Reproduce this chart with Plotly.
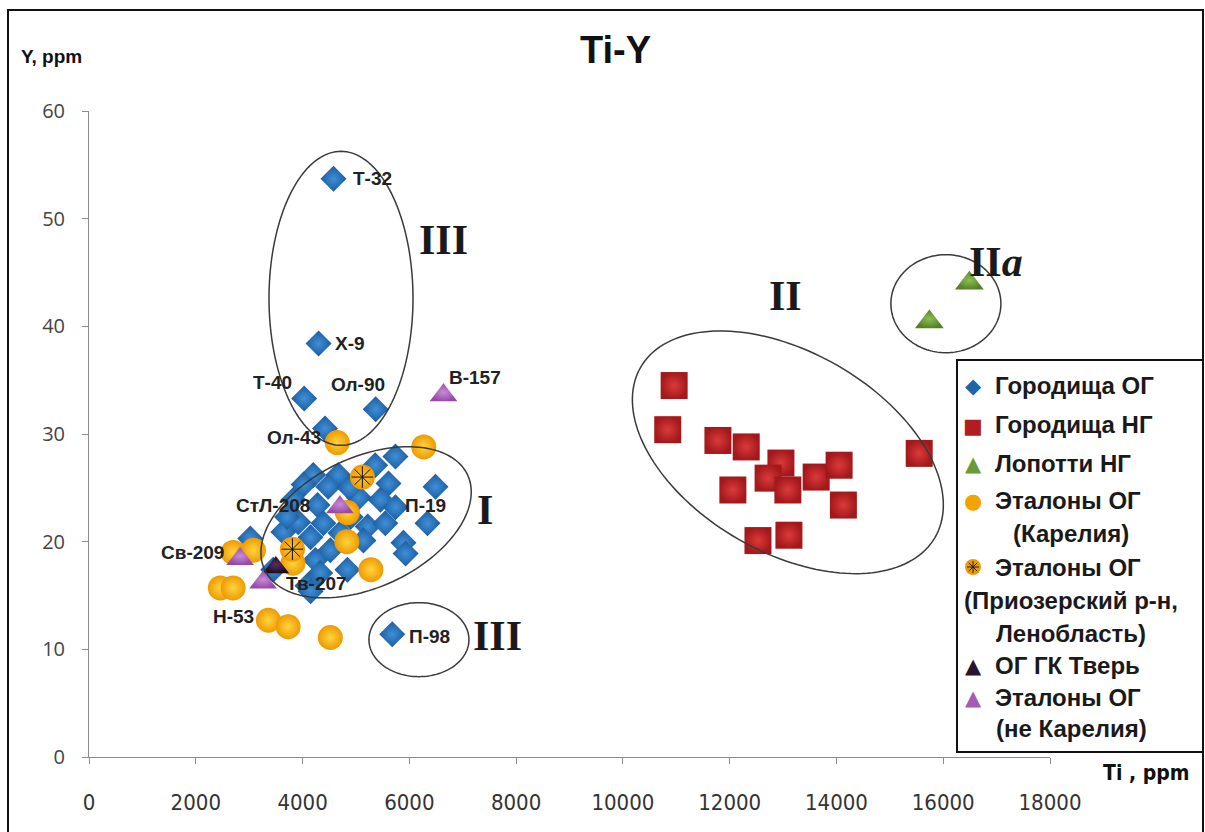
import math
import plotly.graph_objects as go

# ---------------- data: Ti (ppm) vs Y (ppm) ----------------
# Городища ОГ
og_ti = [4580, 4300, 4030, 5370, 4420, 5680,
         5740, 4200, 4670, 5360, 4020, 4480, 5610, 6490, 5050, 5460, 5740,
         3830, 4280, 3920, 4390, 5220, 5550, 6340, 4900, 4150, 4710, 5140,
         5890, 5930, 3640, 4240, 4840, 4330, 4090, 4150, 4520, 3020, 3450,
         4880, 3710]
og_y = [53.7, 38.4, 33.3, 32.3, 30.5, 11.4,
        27.9, 26.2, 26.2, 27.1, 25.3, 25.1, 25.4, 25.1, 24.1, 23.9, 23.2,
        23.9, 23.4, 21.8, 21.7, 21.4, 21.7, 21.7, 22.3, 20.4, 20.8, 20.1,
        19.9, 18.9, 20.9, 18.3, 17.4, 17.1, 15.9, 15.4, 19.2, 20.3, 17.4,
        25.0, 22.3]

# Городища НГ
ng_ti = [10960, 10840, 11780, 12310, 12960, 12720, 13090, 12060, 13620,
         14050, 14130, 12530, 13110, 15550]
ng_y = [34.5, 30.4, 29.4, 28.8, 27.3, 25.9, 24.8, 24.8, 26.0,
        27.1, 23.4, 20.1, 20.6, 28.2]

# Лопотти НГ
lop_ti = [16490, 15740]
lop_y = [44.0, 40.4]

# Эталоны ОГ (Карелия)
kar_ti = [4650, 6270, 4840, 4830, 5280, 2700, 3080, 2460, 2700, 3360, 3730,
          4520, 3820]
kar_y = [29.2, 28.8, 22.7, 20.0, 17.4, 19.0, 19.2, 15.7, 15.7, 12.7, 12.1,
         11.1, 18.0]

# Эталоны ОГ (Приозерский р-н, Ленобласть)
prio_ti = [5120, 3810]
prio_y = [26.0, 19.3]

# ОГ ГК Тверь
tver_ti = [3500]
tver_y = [17.6]

# Эталоны ОГ (не Карелия)
nk_ti = [6640, 4700, 2830, 3260]
nk_y = [33.6, 23.2, 18.4, 16.2]

x_ticks = [0, 2000, 4000, 6000, 8000, 10000, 12000, 14000, 16000, 18000]
y_ticks = [0, 10, 20, 30, 40, 50, 60]

# sample labels: text, x, y, anchor, shift x, shift y
point_labels = [
    ("Т-32", og_ti[0], og_y[0], "left", 17, 0),
    ("Х-9", og_ti[1], og_y[1], "left", 14, 0),
    ("Т-40", og_ti[2], og_y[2], "right", -10, 16),
    ("Ол-90", og_ti[3], og_y[3], "center", -18, 25),
    ("Ол-43", kar_ti[0], kar_y[0], "right", -14, 5),
    ("П-98", og_ti[5], og_y[5], "left", 15, -2),
    ("П-19", og_ti[16], og_y[16], "left", 8, 2),
    ("В-157", nk_ti[0], nk_y[0], "left", 3, 18),
    ("СтЛ-208", nk_ti[1], nk_y[1], "right", -28, 2),
    ("Св-209", nk_ti[2], nk_y[2], "right", -14, 6),
    ("Тв-207", tver_ti[0], tver_y[0], "left", 8, -16),
    ("Н-53", kar_ti[9], kar_y[9], "right", -12, 4),
]

# ---------------- geometry ----------------
W, H = 1205, 832
ML, MR, MT, MB = 89, 155, 111, 75
X_MAX, Y_MAX = 18000, 60
PW, PH = W - ML - MR, H - MT - MB
SX, SY = X_MAX / PW, Y_MAX / PH  # data units per pixel


def pxx(px):
    return (px - ML) / PW


def pxy(py):
    return (H - MB - py) / PH


def ellipse_path(cx, cy, a_px, b_px, ang_deg, n=160):
    th = math.radians(ang_deg)
    pts = []
    for k in range(n + 1):
        t = 2 * math.pi * k / n
        dx = a_px * math.cos(t) * math.cos(th) - b_px * math.sin(t) * math.sin(th)
        dy = a_px * math.cos(t) * math.sin(th) + b_px * math.sin(t) * math.cos(th)
        pts.append((cx + dx * SX, cy + dy * SY))
    return "M " + " L ".join(f"{x:.1f},{y:.4f}" for x, y in pts) + " Z"


LABEL_FONT = "Liberation Sans, Arial, sans-serif"
NARROW_FONT = "Liberation Sans Narrow, DejaVu Sans Condensed, Arial Narrow, sans-serif"

fig = go.Figure()


def add_series(xs, ys, symbol, size, color, grad):
    fig.add_trace(go.Scatter(
        x=xs, y=ys, mode="markers", hoverinfo="skip",
        marker=dict(symbol=symbol, size=size, color=color,
                    gradient=dict(type="radial", color=grad),
                    line=dict(width=0)),
    ))


add_series(og_ti, og_y, "diamond", 20, "#1C5C9E", "#3F8FD8")
add_series(ng_ti, ng_y, "square", 27, "#A3181B", "#DB3A3A")
add_series(lop_ti, lop_y, "triangle-up", 25, "#557F28", "#8CBF50")
add_series(kar_ti, kar_y, "circle", 25, "#EE9A00", "#FFD43F")
add_series(prio_ti, prio_y, "circle", 25, "#EE9A00", "#FFC83A")
fig.add_trace(go.Scatter(
    x=prio_ti, y=prio_y, mode="markers", hoverinfo="skip",
    marker=dict(symbol="asterisk-open", size=18, color="#111",
                line=dict(width=1, color="#111")),
))
add_series(tver_ti, tver_y, "triangle-up", 23, "#1A0E1E", "#5A2E62")
add_series(nk_ti, nk_y, "triangle-up", 24, "#9549A8", "#C98AD6")

# ---------------- group outlines ----------------
ell_line = dict(color="#3a3a3a", width=1.5)
shapes = [
    dict(type="path", xref="x", yref="y", line=ell_line,
         path=ellipse_path(4720, 42.6, 72, 147, 0)),
    dict(type="path", xref="x", yref="y", line=ell_line,
         path=ellipse_path(5190, 21.8, 112, 65, 25)),
    dict(type="path", xref="x", yref="y", line=ell_line,
         path=ellipse_path(13090, 28.3, 170, 100, -30)),
    dict(type="path", xref="x", yref="y", line=ell_line,
         path=ellipse_path(16050, 42.1, 55, 49, 0)),
    dict(type="path", xref="x", yref="y", line=ell_line,
         path=ellipse_path(6180, 10.9, 50, 37, 0)),
    # outer frame
    dict(type="rect", xref="paper", yref="paper", layer="above",
         x0=pxx(8), x1=pxx(1203), y0=pxy(850), y1=pxy(10),
         line=dict(color="#111", width=2)),
    # legend box
    dict(type="rect", xref="paper", yref="paper", layer="above",
         x0=pxx(957), x1=pxx(1203), y0=pxy(752), y1=pxy(360),
         fillcolor="white", line=dict(color="#111", width=2)),
]

annotations = []

for text, x, y, anchor, dx, dy in point_labels:
    annotations.append(dict(
        x=x, y=y, xref="x", yref="y", text=f"<b>{text}</b>", showarrow=False,
        xanchor=anchor, yanchor="middle", xshift=dx, yshift=dy,
        font=dict(family=LABEL_FONT, size=19, color="#222"),
    ))

# group numerals
roman = [
    ("III", 6640, 48.0), ("I", 7410, 22.9), ("II", 13040, 42.8),
    ("II<i>a</i>", 16990, 46.0), ("III", 7650, 11.2),
]
for text, x, y in roman:
    annotations.append(dict(
        x=x, y=y, xref="x", yref="y", text=f"<b>{text}</b>", showarrow=False,
        xanchor="center", yanchor="middle",
        font=dict(family="Liberation Serif, Times New Roman, serif", size=42,
                  color="#1a1a1a"),
    ))

# titles
annotations += [
    dict(x=pxx(615), y=pxy(50), xref="paper", yref="paper", text="<b>Ti-Y</b>",
         showarrow=False, xanchor="center", yanchor="middle",
         font=dict(family=LABEL_FONT, size=38, color="#111")),
    dict(x=pxx(19), y=pxy(57), xref="paper", yref="paper", text="<b>Y, ppm</b>",
         showarrow=False, xanchor="left", yanchor="middle",
         font=dict(family=LABEL_FONT, size=19, color="#111")),
    dict(x=pxx(1146), y=pxy(773), xref="paper", yref="paper", text="<b>Ti , ppm</b>",
         showarrow=False, xanchor="center", yanchor="middle",
         font=dict(family=NARROW_FONT, size=21, color="#111")),
]

# legend (drawn inside the legend box)
legend_rows = [
    ("◆", "#1F63A8", ["Городища ОГ"]),
    ("■", "#B01E22", ["Городища НГ"]),
    ("▲", "#6A9A38", ["Лопотти НГ"]),
    ("●", "#F2A300", ["Эталоны ОГ", "(Карелия)"]),
    (None, "#EE9A00", ["Эталоны ОГ", "(Приозерский р-н,", "Ленобласть)"]),
    ("▲", "#2A1430", ["ОГ ГК Тверь"]),
    ("▲", "#A45BB4", ["Эталоны ОГ", "(не Карелия)"]),
]
legend_line_y = [385, 425, 463, 500, 533, 567, 600, 633, 665, 697, 728]
LEG_FONT = dict(family=LABEL_FONT, size=24, color="#1a1a1a")
GX = 973
li = 0
for glyph, gcol, lines in legend_rows:
    y0 = legend_line_y[li]
    if glyph is not None:
        annotations.append(dict(
            x=pxx(GX), y=pxy(y0 + 1), xref="paper", yref="paper", text=glyph,
            showarrow=False, xanchor="center", yanchor="middle",
            font=dict(family="DejaVu Sans, sans-serif", size=21, color=gcol)))
    else:
        # orange disc with a dark asterisk
        r = 8
        shapes.append(dict(type="circle", xref="paper", yref="paper", layer="above",
                           x0=pxx(GX - r), x1=pxx(GX + r),
                           y0=pxy(y0 + r), y1=pxy(y0 - r),
                           fillcolor=gcol, line=dict(width=0)))
        for a in range(4):
            ang = math.pi * a / 4
            ddx, ddy = 6 * math.cos(ang), 6 * math.sin(ang)
            shapes.append(dict(type="line", xref="paper", yref="paper", layer="above",
                               x0=pxx(GX - ddx), x1=pxx(GX + ddx),
                               y0=pxy(y0 - ddy), y1=pxy(y0 + ddy),
                               line=dict(color="#222", width=1)))
    for j, line in enumerate(lines):
        y = legend_line_y[li]
        annotations.append(dict(
            x=pxx(993 if j == 0 else 1071), y=pxy(y), xref="paper", yref="paper",
            text=f"<b>{line}</b>", showarrow=False,
            xanchor="left" if j == 0 else "center",
            yanchor="middle", font=LEG_FONT))
        li += 1

axis_common = dict(showline=True, linecolor="#8c8c8c", linewidth=1,
                   ticks="outside", ticklen=6, tickcolor="#8c8c8c",
                   showgrid=False, zeroline=False, fixedrange=True)

fig.update_layout(
    width=W, height=H, autosize=False,
    margin=dict(l=ML, r=MR, t=MT, b=MB),
    paper_bgcolor="white", plot_bgcolor="white",
    showlegend=False,
    xaxis=dict(range=[0, X_MAX], tickvals=x_ticks,
               ticktext=[str(v) for v in x_ticks],
               tickfont=dict(family=NARROW_FONT, size=22, color="#333"),
               ticklabelstandoff=20, **axis_common),
    yaxis=dict(range=[0, Y_MAX], tickvals=y_ticks,
               tickfont=dict(family="Open Sans, sans-serif", size=20, color="#444"),
               ticklabelstandoff=13, **axis_common),
    shapes=shapes,
    annotations=annotations,
)

fig.write_html("out.html")
